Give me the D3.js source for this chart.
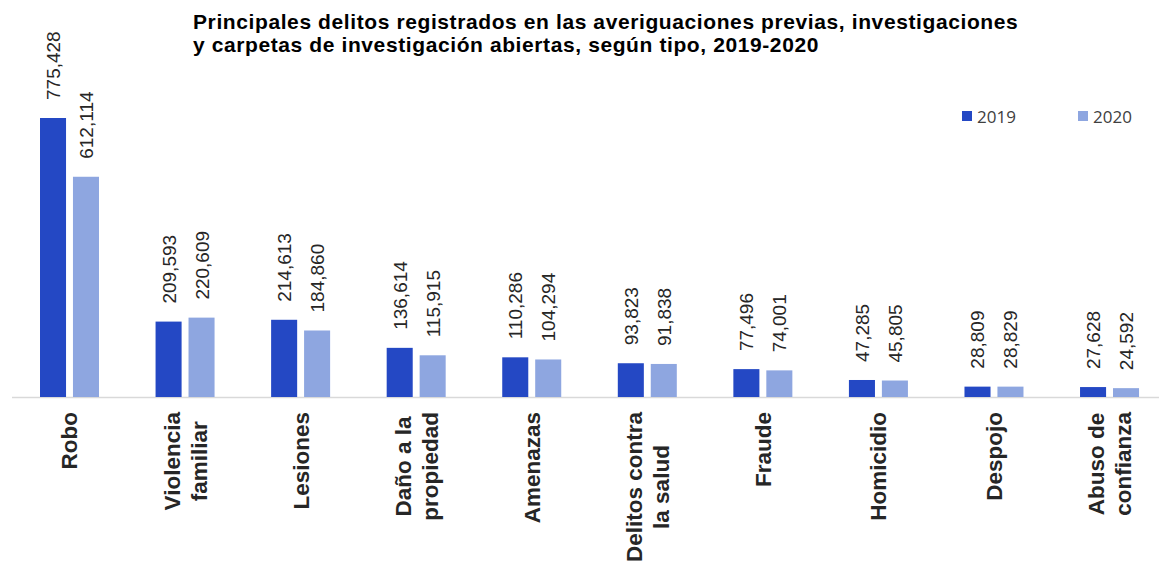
<!DOCTYPE html>
<html>
<head>
<meta charset="utf-8">
<script src="https://cdn.jsdelivr.net/npm/d3@7"></script>
<style>
  body { margin: 0; background: #fff; }
  svg { display: block; font-family: "Liberation Sans", Arial, sans-serif; }
</style>
</head>
<body>
<script>
var categories = [
  ["Robo"],
  ["Violencia", "familiar"],
  ["Lesiones"],
  ["Daño a la", "propiedad"],
  ["Amenazas"],
  ["Delitos contra", "la salud"],
  ["Fraude"],
  ["Homicidio"],
  ["Despojo"],
  ["Abuso de", "confianza"]
];
var years = ["2019", "2020"];
var values2019 = [775428, 209593, 214613, 136614, 110286, 93823, 77496, 47285, 28809, 27628];
var values2020 = [612114, 220609, 184860, 115915, 104294, 91838, 74001, 45805, 28829, 24592];
var titleLines = [
  "Principales delitos registrados en las averiguaciones previas, investigaciones",
  "y carpetas de investigación abiertas, según tipo, 2019-2020"
];

var width = 1159,
    height = 565;
var colors = ["#2448c4", "#8ea6e0"];

var svg = d3.select("body").append("svg")
  .attr("width", width)
  .attr("height", height);

var baseY = 397;

var x = d3.scaleBand()
  .domain(d3.range(categories.length))
  .range([11.7, 1167.3])
  .paddingInner(0)
  .paddingOuter(0);

var x1 = d3.scaleBand()
  .domain(years)
  .range([28.3, 87.3])
  .paddingInner(0.21);

var y = d3.scaleLinear()
  .domain([0, 775428])
  .range([baseY, 118]);

var series = [values2019, values2020];
var fmt = d3.format(",");

// title
svg.append("g").selectAll("text")
  .data(titleLines)
  .enter().append("text")
  .attr("x", 193)
  .attr("y", function(d, i) { return 29 + i * 23; })
  .style("font-size", "21px")
  .style("font-weight", "bold")
  .style("letter-spacing", "0.6px")
  .style("fill", "#000")
  .text(function(d) { return d; });

// axis line
svg.append("line")
  .attr("x1", 12).attr("x2", width)
  .attr("y1", baseY + 0.5).attr("y2", baseY + 0.5)
  .style("stroke", "#d9d9d9")
  .style("stroke-width", 1.5);

var groups = svg.append("g").selectAll("g")
  .data(categories)
  .enter().append("g")
  .attr("transform", function(d, i) { return "translate(" + x(i) + ",0)"; });

years.forEach(function(yr, s) {
  groups.append("rect")
    .attr("x", x1(yr))
    .attr("width", x1.bandwidth())
    .attr("y", function(d, i) { return y(series[s][i]); })
    .attr("height", function(d, i) { return baseY - y(series[s][i]); })
    .style("fill", colors[s]);

  groups.append("text")
    .attr("transform", function(d, i) {
      return "translate(" + (x1(yr) + x1.bandwidth() / 2 + 7) + "," + (y(series[s][i]) - 18) + ") rotate(-90)";
    })
    .style("font-size", "19px")
    .style("fill", "#262626")
    .text(function(d, i) { return fmt(series[s][i]); });
});

// category labels
groups.each(function(lines) {
  var g = d3.select(this);
  var cx = x.bandwidth() / 2;
  var lh = 27;
  var t = g.append("text")
    .style("font-size", "22.5px")
    .style("font-weight", "bold")
    .style("fill", "#262626")
    .attr("text-anchor", "middle");
  lines.forEach(function(l) { t.append("tspan").text(l); });
  var maxLen = 0;
  t.selectAll("tspan").each(function() { maxLen = Math.max(maxLen, this.getComputedTextLength()); });
  var cy = 412 + maxLen / 2;
  t.attr("transform", "translate(" + cx + "," + cy + ") rotate(-90)");
  t.selectAll("tspan")
    .attr("x", 0)
    .attr("y", function(d, i) { return (i - (lines.length - 1) / 2) * lh + 8; });
});

// legend
var legend = svg.append("g").selectAll("g")
  .data(years)
  .enter().append("g")
  .attr("transform", function(d, i) { return "translate(" + (962 + i * 116) + ",111)"; });

legend.append("rect")
  .attr("width", 10).attr("height", 10)
  .style("fill", function(d, i) { return colors[i]; });

legend.append("text")
  .attr("x", 15)
  .attr("y", 11.5)
  .style("font-family", "'Open Sans', sans-serif")
  .style("font-size", "17px")
  .style("fill", "#404040")
  .text(function(d) { return d; });
</script>
</body>
</html>
